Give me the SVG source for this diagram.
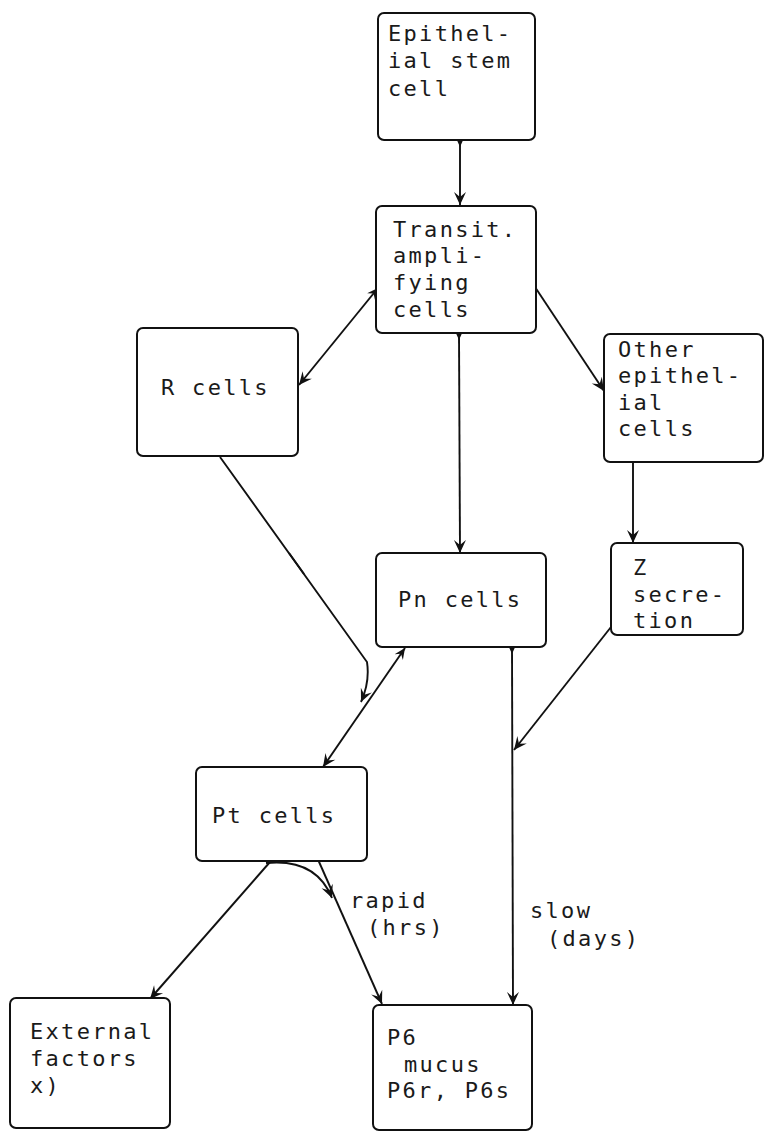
<svg xmlns="http://www.w3.org/2000/svg" width="768" height="1142" viewBox="0 0 768 1142">
<style>
.box{fill:#fff;stroke:#111;stroke-width:2}
.t{font-family:"DejaVu Sans Mono","Liberation Mono",monospace;font-size:22px;letter-spacing:2.3px;fill:#1a1a1a}
.c{fill:none;stroke:#111;stroke-width:1.9}
</style>
<defs>
<marker id="ah" markerUnits="userSpaceOnUse" markerWidth="16" markerHeight="14" viewBox="0 0 16 14" refX="14" refY="7" orient="auto">
<path d="M1,1 L14,7 L1,13 L6,7 Z" fill="#111"/>
</marker>
<marker id="st" markerUnits="userSpaceOnUse" markerWidth="12" markerHeight="10" viewBox="0 0 12 10" refX="3" refY="5" orient="auto">
<path d="M1,1 L10,5 L1,9 L4,5 Z" fill="#111"/>
</marker>
<marker id="sr" markerUnits="userSpaceOnUse" markerWidth="14" markerHeight="12" viewBox="0 0 14 12" refX="12" refY="6" orient="auto-start-reverse">
<path d="M1,1 L12,6 L1,11 L5,6 Z" fill="#111"/>
</marker>
</defs>
<g id="connectors">
<path class="c" d="M460,140 L460,205" marker-start="url(#st)" marker-end="url(#ah)"/>
<path class="c" d="M378,288 L299,385" marker-start="url(#sr)" marker-end="url(#ah)"/>
<path class="c" d="M533,284 L604,391" marker-start="url(#st)" marker-end="url(#ah)"/>
<path class="c" d="M459,333 L460,553" marker-start="url(#st)" marker-end="url(#ah)"/>
<path class="c" d="M633,462 L633,543" marker-end="url(#ah)"/>
<path class="c" d="M220,457 L367,662 Q370,682 361,702" marker-end="url(#ah)"/>
<path class="c" d="M289,553 L304,574" stroke-width="3.2"/>
<path class="c" d="M405,648 L323,767" marker-start="url(#sr)" marker-end="url(#ah)"/>
<path class="c" d="M512,647 L513,1005" marker-start="url(#st)" marker-end="url(#ah)"/>
<path class="c" d="M611,627 L514,750" marker-end="url(#ah)"/>
<path class="c" d="M270,862 L150,999" marker-end="url(#ah)"/>
<path class="c" d="M266,863 Q316,858 332,898" marker-end="url(#ah)"/>
<path class="c" d="M316,855 L382,1004" marker-start="url(#st)" marker-end="url(#ah)"/>
</g>
<g id="stem">
<rect class="box" x="378" y="13" width="157" height="127" rx="6"/>
<text class="t" x="388" y="41">Epithel-</text>
<text class="t" x="388" y="68">ial stem</text>
<text class="t" x="388" y="96">cell</text>
</g>
<g id="transit">
<rect class="box" x="376" y="206" width="160" height="127" rx="6"/>
<text class="t" x="393" y="237">Transit.</text>
<text class="t" x="393" y="263">ampli-</text>
<text class="t" x="393" y="290">fying</text>
<text class="t" x="393" y="317">cells</text>
</g>
<g id="rcells">
<rect class="box" x="137" y="328" width="161" height="128" rx="6"/>
<text class="t" x="161" y="395">R cells</text>
</g>
<g id="other">
<rect class="box" x="604" y="334" width="159" height="128" rx="6"/>
<text class="t" x="618" y="357">Other</text>
<text class="t" x="618" y="383">epithel-</text>
<text class="t" x="618" y="410">ial</text>
<text class="t" x="618" y="436">cells</text>
</g>
<g id="pn">
<rect class="box" x="376" y="553" width="170" height="94" rx="6"/>
<text class="t" x="398" y="607">Pn cells</text>
</g>
<g id="z">
<rect class="box" x="611" y="543" width="132" height="92" rx="6"/>
<text class="t" x="633" y="575">Z</text>
<text class="t" x="633" y="602">secre-</text>
<text class="t" x="633" y="628">tion</text>
</g>
<g id="pt">
<rect class="box" x="196" y="767" width="171" height="94" rx="6"/>
<text class="t" x="212" y="823">Pt cells</text>
</g>
<g id="external">
<rect class="box" x="10" y="998" width="160" height="130" rx="6"/>
<text class="t" x="30" y="1039">External</text>
<text class="t" x="30" y="1066">factors</text>
<text class="t" x="30" y="1093">x)</text>
</g>
<g id="p6">
<rect class="box" x="373" y="1005" width="159" height="125" rx="6"/>
<text class="t" x="387" y="1045">P6</text>
<text class="t" x="404" y="1072">mucus</text>
<text class="t" x="387" y="1098">P6r, P6s</text>
</g>
<g id="labels">
<text class="t" x="350" y="908">rapid</text>
<text class="t" x="367" y="935">(hrs)</text>
<text class="t" x="530" y="918">slow</text>
<text class="t" x="547" y="946">(days)</text>
</g>
</svg>
